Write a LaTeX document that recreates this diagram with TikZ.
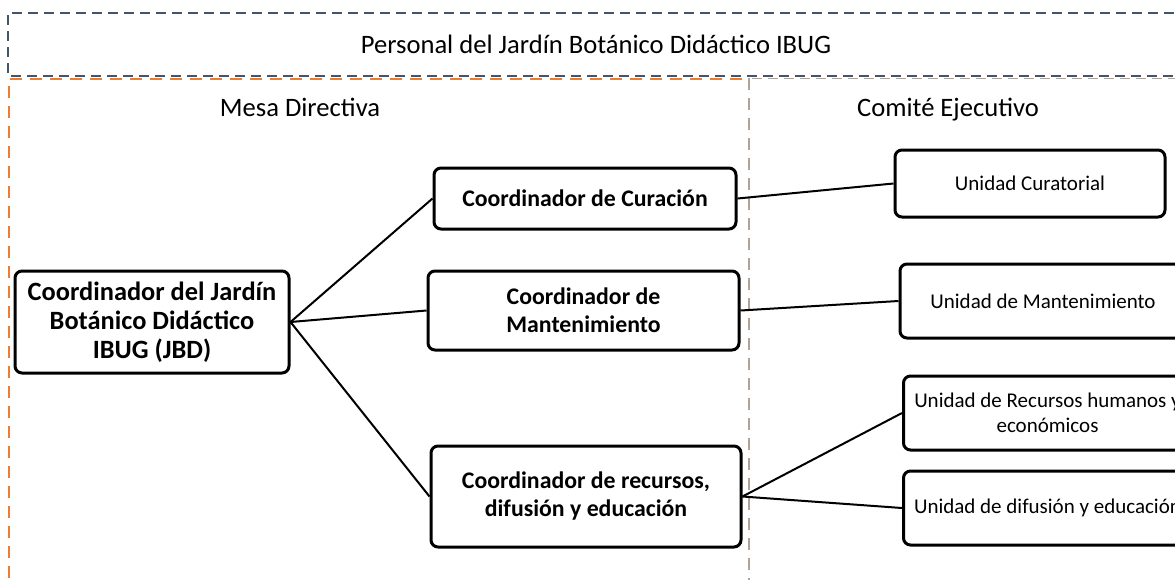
\documentclass[tikz,border=0pt]{standalone}
\usepackage{fontspec}
\setmainfont{Carlito}
\definecolor{dkgray}{HTML}{44546A}
\definecolor{orng}{HTML}{ED7D31}
\definecolor{beige}{HTML}{B0A294}
\begin{document}
\begin{tikzpicture}[x=1pt,y=-1pt,
  box/.style={draw=black,line width=3pt,rounded corners=7pt,fill=white,align=center,inner sep=0pt},
  coordbox/.style={box,font=\fontsize{23.8}{28}\selectfont\bfseries},
  rootbox/.style={box,font=\fontsize{26.4}{29}\selectfont\bfseries},
  unitbox/.style={box,font=\fontsize{21}{25}\selectfont},
  link/.style={draw=black,line width=2pt},
  title/.style={font=\fontsize{26.6}{30}\selectfont,inner sep=0pt}]
\useasboundingbox (0,0) rectangle (1175,579);
\clip (0,0) rectangle (1175,579);
\fill[white] (0,0) rectangle (1175,579);
% group frames
\draw[dkgray,line width=1.8pt,dash pattern=on 10pt off 6pt] (1190,13) -- (8,13) -- (8,76) -- (1190,76);
\draw[beige,line width=1.8pt,dash pattern=on 10pt off 6pt] (752,78.5) -- (1190,78.5);
\draw[orng,line width=2.5pt,dash pattern=on 12pt off 8pt] (742,79) -- (9,79) -- (9,585);
\draw[beige,line width=2.5pt,dash pattern=on 12pt off 8pt] (749,78) -- (749,585);
\node[title] (ttl) at (596,44) {Personal del Jardín Botánico Didáctico IBUG};
\node[title] (mesa) at (300,107) {Mesa Directiva};
\node[title] (comite) at (948,110) {Comité Ejecutivo};
% nodes
\node[rootbox,minimum width=274pt,minimum height=102pt] (root) at (152,322) {Coordinador del Jardín\\Botánico Didáctico\\IBUG (JBD)};
\node[coordbox,minimum width=302pt,minimum height=61pt] (cur) at (585,198.5) {Coordinador de Curación};
\node[coordbox,minimum width=311pt,minimum height=79pt] (man) at (583.5,310.5) {Coordinador de\\Mantenimiento};
\node[coordbox,minimum width=310pt,minimum height=101pt] (rec) at (586,496.5) {Coordinador de recursos,\\difusión y educación};
\node[unitbox,minimum width=270pt,minimum height=67pt] (ucur) at (1030,183.5) {Unidad Curatorial};
\node[unitbox,minimum width=286pt,minimum height=74pt] (uman) at (1043,301) {Unidad de Mantenimiento};
\node[unitbox,minimum width=288pt,minimum height=74pt] (urh) at (1047.5,413) {Unidad de Recursos humanos y\\económicos};
\node[unitbox,minimum width=288pt,minimum height=74pt] (udif) at (1047.5,508) {Unidad de difusión y educación};
% connectors
\draw[link] (root.east) -- (cur.west);
\draw[link] (root.east) -- (man.west);
\draw[link] (root.east) -- (rec.west);
\draw[link] (cur.east) -- (ucur.west);
\draw[link] (man.east) -- (uman.west);
\draw[link] (rec.east) -- (urh.west);
\draw[link] (rec.east) -- (udif.west);
\end{tikzpicture}
\end{document}
